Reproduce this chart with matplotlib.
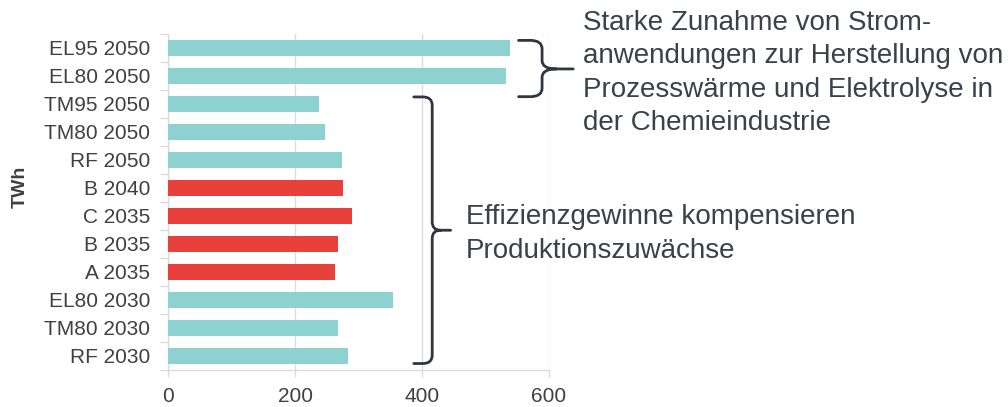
import matplotlib.pyplot as plt
from matplotlib.path import Path
from matplotlib.patches import PathPatch

plt.rcParams['font.family'] = ['Liberation Sans', 'DejaVu Sans']

# Szenarien von unten nach oben
labels = ['RF 2030', 'TM80 2030', 'EL80 2030', 'A 2035', 'B 2035', 'C 2035',
          'B 2040', 'RF 2050', 'TM80 2050', 'TM95 2050', 'EL80 2050', 'EL95 2050']
values = [283, 268, 354, 263, 268, 290, 275, 274, 247, 238, 532, 538]
highlight = ['A 2035', 'B 2035', 'C 2035', 'B 2040']
xticks = [0, 200, 400, 600]

teal = '#8DD1D0'
red = '#E8403A'
text_col = '#404040'
note_col = '#3A414B'
grid_col = '#D9DCD9'

colors = [red if l in highlight else teal for l in labels]

fig = plt.figure(figsize=(10.08, 4.07), dpi=100)
ax = fig.add_axes([0.1667, 0.091, 0.378, 0.8256])

ypos = list(range(len(labels)))
ax.barh(ypos, values, height=0.55, color=colors, zorder=3)

ax.set_xlim(0, 600)
ax.set_ylim(-0.5, len(labels) - 0.5)
ax.set_xticks(xticks)
ax.set_xticklabels([str(t) for t in xticks])
ax.set_yticks(ypos)
ax.set_yticklabels(labels)
ax.set_yticks([i + 0.5 for i in range(-1, len(labels))], minor=True)

ax.tick_params(axis='y', which='major', length=0, pad=13, labelsize=15, labelcolor=text_col)
ax.tick_params(axis='y', which='minor', length=6, width=1, color=grid_col)
ax.tick_params(axis='x', which='major', length=5, width=1, color=grid_col, pad=7,
               labelsize=15, labelcolor=text_col)

ax.grid(axis='x', color=grid_col, lw=1, zorder=0)
for s in ['top', 'right']:
    ax.spines[s].set_visible(False)
for s in ['left', 'bottom']:
    ax.spines[s].set_color(grid_col)
    ax.spines[s].set_linewidth(1)

fig.text(20 / 1008, 1 - 187 / 407, 'TWh', rotation=90, ha='center', va='center',
         fontsize=14, fontweight='bold', color=text_col)


def brace(ax, x_end, x_spine, x_tip, y_top, y_bot, y_mid, ry):
    rx = (x_spine - x_end) * 0.5
    stub = x_spine + (x_tip - x_spine) * 0.45
    verts = [
        (x_end, y_top), (x_spine - rx, y_top),
        (x_spine, y_top), (x_spine, y_top - ry),
        (x_spine, y_mid + ry),
        (x_spine, y_mid), (stub, y_mid),
        (x_tip, y_mid),
        (stub, y_mid),
        (x_spine, y_mid), (x_spine, y_mid - ry),
        (x_spine, y_bot + ry),
        (x_spine, y_bot), (x_spine - rx, y_bot),
        (x_end, y_bot),
    ]
    codes = [Path.MOVETO, Path.LINETO,
             Path.CURVE3, Path.CURVE3,
             Path.LINETO,
             Path.CURVE3, Path.CURVE3,
             Path.LINETO,
             Path.MOVETO,
             Path.CURVE3, Path.CURVE3,
             Path.LINETO,
             Path.CURVE3, Path.CURVE3,
             Path.LINETO]
    p = PathPatch(Path(verts, codes), fill=False, lw=2, edgecolor='#2F3640',
                  clip_on=False, capstyle='round', joinstyle='round', zorder=5)
    ax.add_patch(p)


brace(ax, 552, 589, 638, 11.27, 9.26, 10.25, 0.3)
brace(ax, 387, 416, 445, 9.25, -0.27, 4.49, 0.3)

fig.text(583 / 1008, 1 - 73 / 407,
         'Starke Zunahme von Strom-\nanwendungen zur Herstellung von\n'
         'Prozesswärme und Elektrolyse in\nder Chemieindustrie',
         ha='left', va='center', fontsize=20, color=note_col, linespacing=1.38)
fig.text(466 / 1008, 1 - 234 / 407,
         'Effizienzgewinne kompensieren\nProduktionszuwächse',
         ha='left', va='center', fontsize=20, color=note_col, linespacing=1.38)

fig.savefig('out.png', dpi=100)
